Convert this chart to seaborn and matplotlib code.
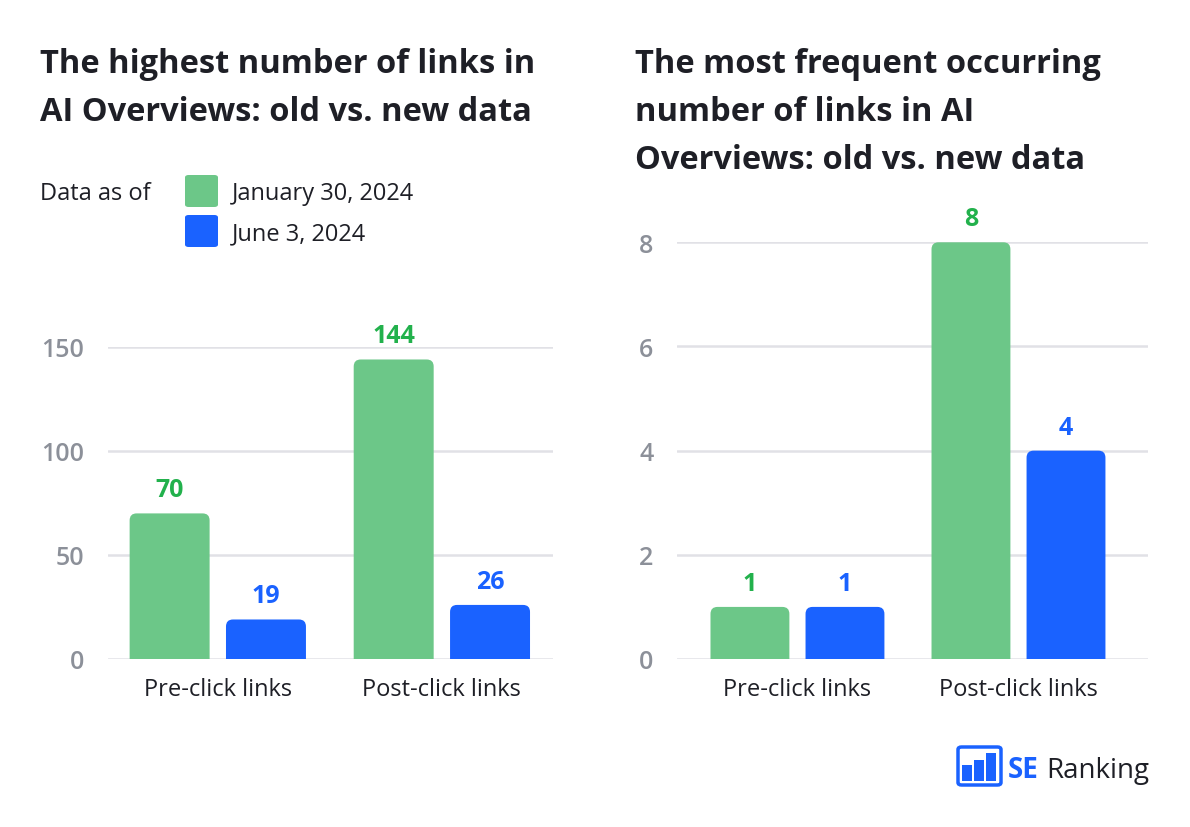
import matplotlib
matplotlib.use("Agg")
import matplotlib.pyplot as plt
from matplotlib.patches import FancyBboxPatch, Rectangle
import seaborn as sns
import pandas as pd

# ---- data ----
categories = ["Pre-click links", "Post-click links"]
series_names = ["January 30, 2024", "June 3, 2024"]
highest_jan = [70, 144]
highest_jun = [19, 26]
frequent_jan = [1, 8]
frequent_jun = [1, 4]
left_ticks = [0, 50, 100, 150]
right_ticks = [0, 2, 4, 6, 8]
left_title = ["The highest number of links in", "AI Overviews: old vs. new data"]
right_title = ["The most frequent occurring", "number of links in AI", "Overviews: old vs. new data"]

GREEN = "#6CC788"
BLUE = "#1A62FF"
GREEN_TXT = "#22B14C"
BLUE_TXT = "#1A62FF"
GRID = "#E1E1E6"
TICK = "#8C9099"
DARK = "#1E1F26"
FONT = "Open Sans"

sns.set_theme(style="white")
plt.rcParams["font.family"] = [FONT, "DejaVu Sans"]

W, H = 1190, 828
fig = plt.figure(figsize=(W / 100, H / 100), dpi=100)
fig.patch.set_facecolor("white")


def fx(px):
    return px / W


def fy(py):
    return 1 - py / H


def make_df(a, b):
    rows = []
    for c, v in zip(categories, a):
        rows.append({"cat": c, "series": series_names[0], "val": v})
    for c, v in zip(categories, b):
        rows.append({"cat": c, "series": series_names[1], "val": v})
    return pd.DataFrame(rows)


def round_tops(ax, r_px=7):
    fig.canvas.draw()
    bbox = ax.get_window_extent()
    x0, x1 = ax.get_xlim()
    y0, y1 = ax.get_ylim()
    rx = r_px * (x1 - x0) / bbox.width
    ry = r_px * (y1 - y0) / bbox.height
    bars = list(ax.patches)
    for p in bars:
        x, y = p.get_x(), p.get_y()
        w, h = p.get_width(), p.get_height()
        fc = p.get_facecolor()
        p.set_visible(False)
        fb = FancyBboxPatch((x, y - ry * 2), w, h + ry * 2,
                            boxstyle=f"round,pad=0,rounding_size={rx}",
                            mutation_aspect=ry / rx,
                            facecolor=fc, edgecolor="none", zorder=3)
        ax.add_patch(fb)


def panel(ax, a, b, ylim, ticks, xlim):
    df = make_df(a, b)
    sns.barplot(data=df, x="cat", y="val", hue="series", order=categories,
                hue_order=series_names, palette=[GREEN, BLUE], width=0.86,
                gap=0.17, legend=False, ax=ax, zorder=3, linewidth=0,
                saturation=1, errorbar=None)
    ax.set_ylim(*ylim)
    ax.set_xlim(*xlim)
    ax.set_yticks(ticks)
    ax.grid(axis="y", color=GRID, linewidth=1.8, zorder=0)
    ax.grid(axis="x", visible=False)
    for s in ax.spines.values():
        s.set_visible(False)
    ax.set_xlabel("")
    ax.set_ylabel("")
    ax.tick_params(axis="y", length=0, pad=17, labelsize=18, labelcolor=TICK)
    ax.tick_params(axis="x", length=0, pad=13, labelsize=17, labelcolor=DARK)
    for t in ax.get_yticklabels():
        t.set_fontweight("semibold")
    for cont, col in zip(ax.containers, [GREEN_TXT, BLUE_TXT]):
        labels = ax.bar_label(cont, padding=8, fontsize=18, fontweight="bold", color=col)
        for l in labels:
            l.set_clip_on(False)
    round_tops(ax)


ax1 = fig.add_axes([fx(108), fy(660), fx(553) - fx(108), fy(348) - fy(660)])
panel(ax1, highest_jan, highest_jun, (0, 150), left_ticks, (-0.49, 1.496))

ax2 = fig.add_axes([fx(677), fy(660), fx(1148) - fx(677), fy(243.3) - fy(660)])
panel(ax2, frequent_jan, frequent_jun, (0, 8), right_ticks, (-0.545, 1.586))

# titles
for i, line in enumerate(left_title):
    fig.text(fx(40), fy(73 + 48 * i), line, fontsize=23.5, fontweight="bold",
             color=DARK, ha="left", va="baseline")
for i, line in enumerate(right_title):
    fig.text(fx(635), fy(73 + 48 * i), line, fontsize=23.5, fontweight="bold",
             color=DARK, ha="left", va="baseline")

# legend
fig.text(fx(40), fy(200), "Data as of", fontsize=17, color=DARK, va="baseline")
for i, (name, col) in enumerate(zip(series_names, [GREEN, BLUE])):
    top = 176 + 40 * i
    fig.patches.append(FancyBboxPatch((fx(185), fy(top + 32)), fx(33), fy(top) - fy(top + 32),
                                      boxstyle="round,pad=0,rounding_size=0.003",
                                      transform=fig.transFigure, facecolor=col,
                                      edgecolor="none", figure=fig))
    fig.text(fx(232), fy(200 + 40 * i), name, fontsize=17, color=DARK, va="baseline")

# logo
fig.patches.append(FancyBboxPatch((fx(958), fy(786)), fx(43), fy(748) - fy(786),
                                  boxstyle="round,pad=0,rounding_size=0.003",
                                  transform=fig.transFigure, facecolor="none",
                                  edgecolor=BLUE, linewidth=2.5, figure=fig))
for x0, top in [(962, 766), (974, 761), (986, 754)]:
    fig.patches.append(Rectangle((fx(x0), fy(782)), fx(9.5), fy(top) - fy(782),
                                 transform=fig.transFigure, facecolor=BLUE,
                                 edgecolor="none", figure=fig))
fig.text(fx(1008), fy(778), "SE", fontsize=20, fontweight="bold", color=BLUE, va="baseline")
fig.text(fx(1046), fy(778), "Ranking", fontsize=20, color=DARK, va="baseline")

fig.savefig("out.png", dpi=100, facecolor="white")
